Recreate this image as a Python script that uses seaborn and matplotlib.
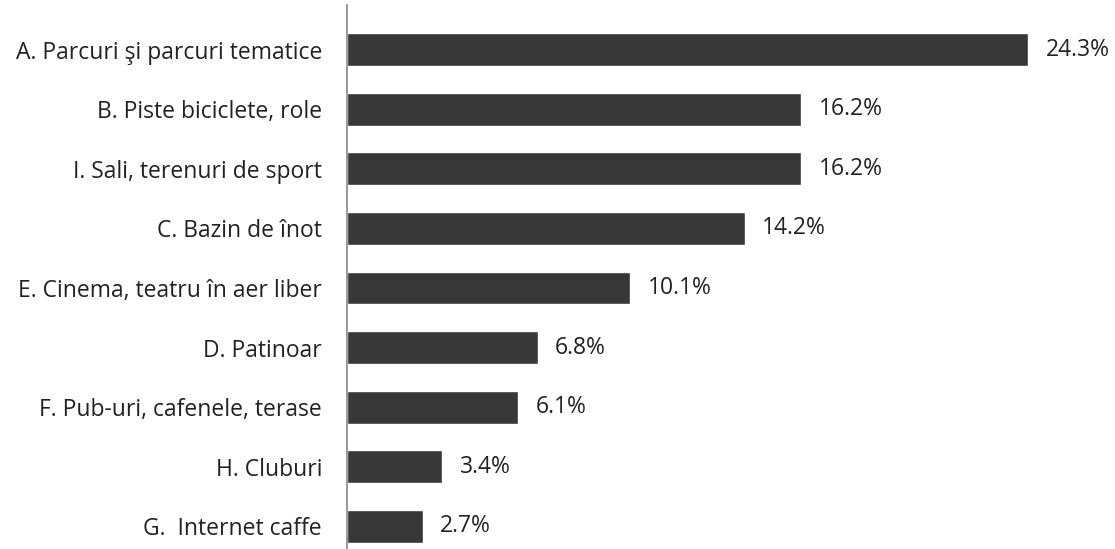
import pandas as pd
import matplotlib.pyplot as plt
import seaborn as sns

# Data
categorii = ['A. Parcuri şi parcuri tematice', 'B. Piste biciclete, role',
             'I. Sali, terenuri de sport', 'C. Bazin de înot',
             'E. Cinema, teatru în aer liber', 'D. Patinoar',
             'F. Pub-uri, cafenele, terase', 'H. Cluburi', 'G.  Internet caffe']
procente = [24.3, 16.2, 16.2, 14.2, 10.1, 6.8, 6.1, 3.4, 2.7]

df = pd.DataFrame({'categorie': categorii, 'procent': procente})

sns.set_style('white')
plt.rcParams['font.family'] = ['Open Sans', 'DejaVu Sans']

fig = plt.figure(figsize=(11.15, 5.49), dpi=100)
ax = fig.add_axes([347 / 1115, 0.0, 1 - 347 / 1115, 0.99])

sns.barplot(data=df, y='categorie', x='procent', orient='h',
            color='#383838', saturation=1, width=0.55, ax=ax)

for i, v in enumerate(procente):
    ax.text(v + 0.62, i, f'{v:.1f}%', va='center', ha='left',
            fontsize=16.5, color='#222222')

ax.set_xlim(0, 27.4)
ax.set_ylim(8.38, -0.74)
ax.set_xlabel('')
ax.set_ylabel('')
ax.set_xticks([])
ax.tick_params(axis='y', length=0, pad=18, labelsize=16.5, labelcolor='#222222')
for s in ['top', 'right', 'bottom']:
    ax.spines[s].set_visible(False)
ax.spines['left'].set_color('#888888')
ax.spines['left'].set_linewidth(1.2)

fig.savefig('out.png', dpi=100, facecolor='white')
